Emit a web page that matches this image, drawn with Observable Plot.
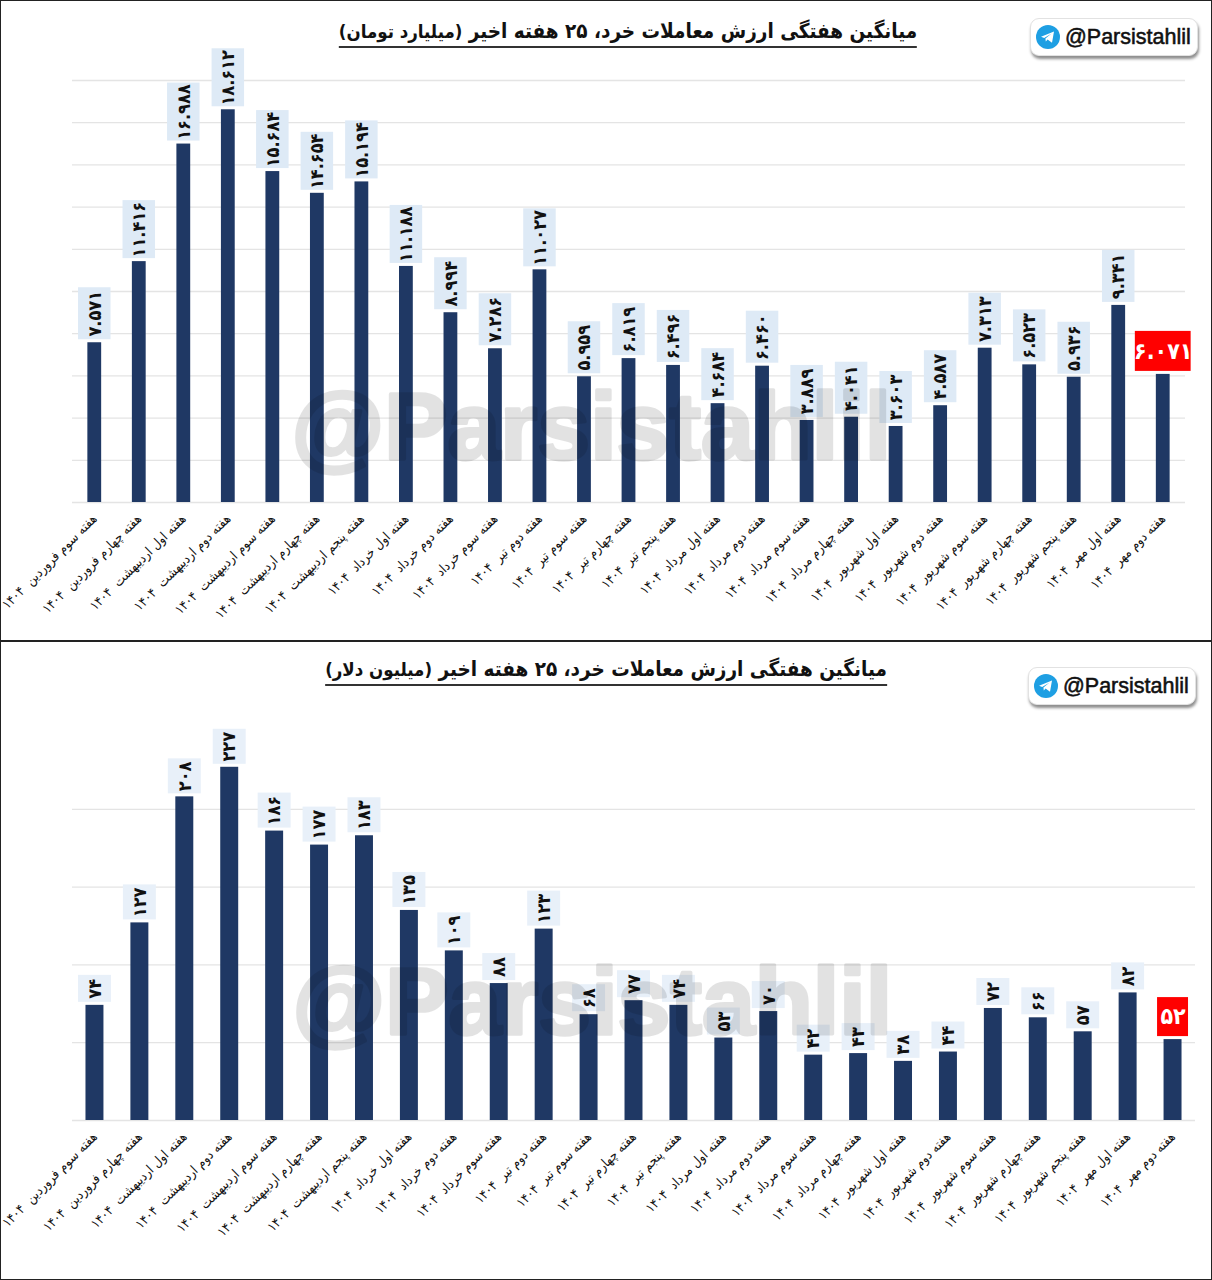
<!DOCTYPE html>
<html lang="fa">
<head>
<meta charset="utf-8">
<script src="https://cdn.jsdelivr.net/npm/d3@7"></script>
<script src="https://cdn.jsdelivr.net/npm/@observablehq/plot@0.6"></script>
<style>
  html, body { margin: 0; padding: 0; background: #fff; overflow: hidden; }
  .panel { position: relative; width: 1212px; outline: 1.5px solid #222; outline-offset: -1.5px; }
  .panel svg.plot { display: block; background: transparent; overflow: visible; }
  .titlebar { height: 40px; }
  .title { position: absolute; transform: translateX(-50%); white-space: nowrap; direction: rtl;
           font-family: "DejaVu Sans Condensed", "DejaVu Sans", sans-serif; font-weight: 700; font-size: 20.5px; line-height: 28px;
           color: #111; border-bottom: 2px solid #333; }
  .title small { font-size: 18.5px; font-weight: 700; }
  .badge { position: absolute; width: 168px; height: 38px; box-sizing: border-box; background: #fff;
           border-radius: 9px; border: 1px solid #e2e2e2; box-shadow: 1px 3px 3px rgba(0,0,0,.45);
           display: flex; align-items: center; padding-left: 5px; gap: 5px;
           font-family: "Liberation Sans", sans-serif; font-size: 21.5px; color: #111; -webkit-text-stroke: .55px #111; }
</style>
</head>
<body>
<div id="root"></div>
<script>
const weeks = [
  "هفته سوم فروردین  ۱۴۰۴","هفته چهارم فروردین  ۱۴۰۴","هفته اول اردیبهشت  ۱۴۰۴","هفته دوم اردیبهشت  ۱۴۰۴","هفته سوم اردیبهشت  ۱۴۰۴",
  "هفته چهارم اردیبهشت  ۱۴۰۴","هفته پنجم اردیبهشت  ۱۴۰۴","هفته اول خرداد  ۱۴۰۴","هفته دوم خرداد  ۱۴۰۴","هفته سوم خرداد  ۱۴۰۴",
  "هفته دوم تیر  ۱۴۰۴","هفته سوم تیر  ۱۴۰۴","هفته چهارم تیر  ۱۴۰۴","هفته پنجم تیر  ۱۴۰۴","هفته اول مرداد  ۱۴۰۴",
  "هفته دوم مرداد  ۱۴۰۴","هفته سوم مرداد  ۱۴۰۴","هفته چهارم مرداد  ۱۴۰۴","هفته اول شهریور  ۱۴۰۴","هفته دوم شهریور  ۱۴۰۴",
  "هفته سوم شهریور  ۱۴۰۴","هفته چهارم شهریور  ۱۴۰۴","هفته پنجم شهریور  ۱۴۰۴","هفته اول مهر  ۱۴۰۴","هفته دوم مهر  ۱۴۰۴"
];
const tomanValues = [7571,11416,16988,18612,15684,14654,15194,11188,8994,7286,11027,5959,6819,6496,4684,6460,3889,4041,3603,4587,7313,6523,5936,9341,6071];
const dollarValues = [74,127,208,227,186,177,183,135,109,88,123,68,77,74,53,70,42,43,38,44,72,66,57,82,52];
const tomanTicks = [0,2000,4000,6000,8000,10000,12000,14000,16000,18000,20000];
const dollarTicks = [0,50,100,150,200];
const watermark = "@Parsistahlil";
const handle = "@Parsistahlil";

const BAR = "#1f3864", RED = "#ff0000", GRID = "#e4e4e4";
const FA = "DejaVu Sans Condensed, DejaVu Sans, sans-serif";
const persian = v => d3.format(",")(v).replace(/,/g, ".").replace(/\d/g, d => "۰۱۲۳۴۵۶۷۸۹"[d]);

const planeIcon = `<svg width="24" height="24" viewBox="0 0 24 24"><circle cx="12" cy="12" r="12" fill="#1e9fe3"/><path d="M5 11.8 L18 6.6 L16 17.8 L11.6 14.6 L9.8 16.6 L9.4 13.4 L15.6 8.6 L8.2 13 Z" fill="#fff"/></svg>`;

function panel({values, domain, ticks, height, marginTop, marginBottom, marginRight, barPad, boxInset, bigThreshold, bigH, smallH, boxColor, redW, redH, redFont, fontSize,
                title, unit, titleX, titleTop, badgeX, badgeY, wmTop, wmLeft, wmSize, tickPad}) {
  const data = weeks.map((week, i) => ({week, value: values[i], last: i === weeks.length - 1, label: persian(values[i])}));
  const rest = data.filter(d => !d.last);
  const big = rest.filter(d => d.value >= bigThreshold);
  const small = rest.filter(d => d.value < bigThreshold);
  const last = data.filter(d => d.last);
  const gap = 3;
  const boxMarks = (rows, h) => [
    Plot.barY(rows, {x: "week", y1: "value", y2: "value", fill: boxColor, insetTop: -(h + gap), insetBottom: gap, insetLeft: boxInset, insetRight: boxInset}),
    Plot.text(rows, {x: "week", y: "value", text: "label", rotate: -90, dy: -(gap + h / 2), fontSize, fontWeight: 700, fill: "#111", fontFamily: FA, textAnchor: "middle", lineAnchor: "middle"})
  ];
  const plot = Plot.plot({
    width: 1212, height, marginLeft: 72, marginRight, marginTop, marginBottom,
    x: {domain: weeks, paddingInner: barPad, paddingOuter: barPad / 2, round: false, axis: null},
    y: {domain, axis: null},
    marks: [
      Plot.ruleY(ticks, {stroke: GRID, strokeWidth: 1.3}),
      Plot.barY(data, {x: "week", y: "value", fill: BAR}),
      ...boxMarks(big, bigH),
      ...boxMarks(small, smallH),
      Plot.barY(last, {x: "week", y1: "value", y2: "value", fill: RED, insetTop: -(redH + gap), insetBottom: gap, insetLeft: -redW / 2, insetRight: -redW / 2}),
      Plot.text(last, {x: "week", y: "value", text: "label", dy: -(gap + redH / 2), fontSize: redFont, fontWeight: 700, fill: "#fff", fontFamily: FA, lineAnchor: "middle"}),
      Plot.axisX({anchor: "bottom", tickSize: 0, tickRotate: -45, tickPadding: tickPad, fontSize: 13.2, fontFamily: FA, fill: "#111", label: null}),
      Plot.text([watermark], {frameAnchor: "top-left", dx: wmLeft - 72, dy: wmTop - marginTop, textAnchor: "start", lineAnchor: "middle", text: d => d, fontSize: wmSize, fontWeight: 700, fontFamily: "Liberation Sans, sans-serif", fill: "#000", stroke: "#000", strokeWidth: 3.5, opacity: 0.11})
    ]
  });
  const box = document.createElement("div");
  box.className = "panel";
  box.innerHTML = `<div class="titlebar"></div>
    <div class="title" style="left:${titleX}px;top:${titleTop}px">${title} <small>${unit}</small></div>
    <div class="badge" style="left:${badgeX}px;top:${badgeY}px">${planeIcon}<span>${handle}</span></div>`;
  box.appendChild(plot);
  return box;
}

const root = document.getElementById("root");
root.appendChild(panel({
  values: tomanValues, domain: [0, 20000], ticks: tomanTicks, height: 601, marginTop: 40, marginBottom: 139, marginRight: 27,
  barPad: 0.69, boxInset: -9.35, bigThreshold: 10000, bigH: 58, smallH: 52, boxColor: "#deeaf6", redW: 42, redH: 40, redFont: 23, fontSize: 18,
  title: "میانگین هفتگی ارزش معاملات خرد، ۲۵ هفته اخیر", unit: "(میلیارد تومان)", titleX: 628, titleTop: 17,
  badgeX: 1030, badgeY: 18, wmTop: 388, wmLeft: 291, wmSize: 95, tickPad: 14
}));
root.appendChild(panel({
  values: dollarValues, domain: [0, 250], ticks: dollarTicks, height: 599, marginTop: 50, marginBottom: 160, marginRight: 17,
  barPad: 0.6, boxInset: -7.5, bigThreshold: 100, bigH: 35, smallH: 27, boxColor: "#e8f0f9", redW: 13, redH: 39, redFont: 23, fontSize: 18,
  title: "میانگین هفتگی ارزش معاملات خرد، ۲۵ هفته اخیر", unit: "(میلیون دلار)", titleX: 606, titleTop: 14,
  badgeX: 1028, badgeY: 26, wmTop: 322, wmLeft: 292, wmSize: 95, tickPad: 14
}));
</script>
</body>
</html>
